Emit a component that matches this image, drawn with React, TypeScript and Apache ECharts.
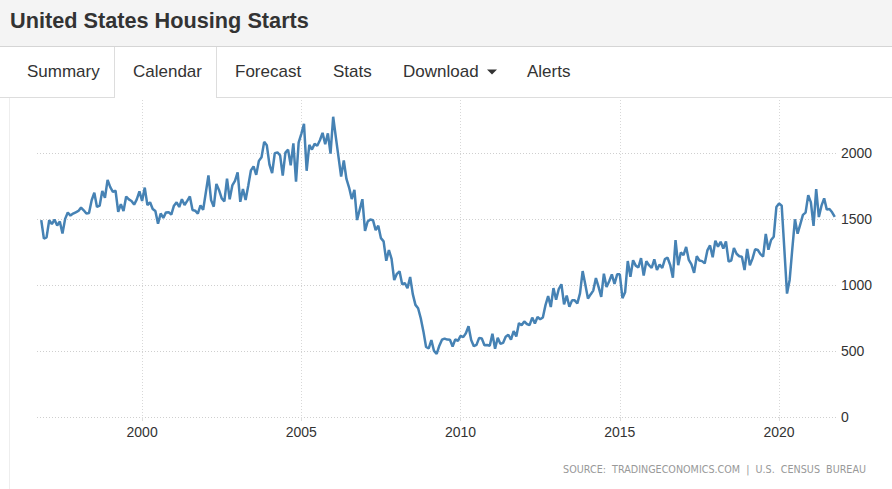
import React, { useEffect, useRef } from "react";
import * as echarts from "echarts";

// Monthly US housing starts (thousands of units, SAAR), Nov 1996 – Oct 2021
const START_YEAR = 1996;
const START_MONTH = 10; // 0-based: November
const starts1996 = [1490, 1350];
const starts1997 = [1360, 1490, 1460, 1495, 1450, 1480, 1390, 1500, 1548, 1525, 1540, 1550];
const starts1998 = [1560, 1585, 1565, 1540, 1545, 1641, 1698, 1590, 1600, 1712, 1660, 1795];
const starts1999 = [1740, 1705, 1713, 1553, 1611, 1559, 1669, 1648, 1635, 1608, 1648, 1708];
const starts2000 = [1636, 1737, 1604, 1626, 1575, 1559, 1463, 1541, 1507, 1549, 1551, 1532];
const starts2001 = [1600, 1625, 1590, 1649, 1605, 1636, 1670, 1567, 1562, 1540, 1602, 1568];
const starts2002 = [1698, 1829, 1642, 1592, 1764, 1717, 1655, 1633, 1804, 1648, 1753, 1788];
const starts2003 = [1853, 1629, 1726, 1643, 1751, 1867, 1897, 1833, 1939, 1967, 2083, 2057];
const starts2004 = [1911, 1846, 1998, 2003, 1981, 1828, 2002, 2024, 1905, 2072, 1782, 2080];
const starts2005 = [2144, 2220, 1864, 2061, 2025, 2068, 2054, 2095, 2151, 2065, 2147, 1994];
const starts2006 = [2273, 2119, 1969, 1821, 1942, 1802, 1737, 1650, 1720, 1491, 1570, 1649];
const starts2007 = [1409, 1480, 1495, 1490, 1415, 1448, 1354, 1330, 1183, 1264, 1197, 1037];
const starts2008 = [1084, 1103, 1005, 1013, 975, 1060, 930, 849, 823, 748, 648, 530];
const starts2009 = [520, 582, 500, 478, 540, 585, 594, 586, 585, 534, 588, 576];
const starts2010 = [614, 605, 634, 687, 583, 536, 546, 599, 594, 543, 545, 539];
const starts2011 = [630, 517, 600, 554, 561, 608, 623, 585, 650, 610, 711, 694];
const starts2012 = [723, 704, 695, 753, 708, 757, 740, 754, 847, 915, 833, 976];
const starts2013 = [888, 969, 1005, 853, 919, 835, 883, 883, 860, 936, 1105, 1003];
const starts2014 = [897, 928, 957, 1052, 985, 909, 1085, 984, 1028, 1080, 1007, 1080];
const starts2015 = [1080, 900, 944, 1181, 1062, 1187, 1146, 1132, 1203, 1071, 1179, 1149];
const starts2016 = [1128, 1194, 1113, 1155, 1128, 1195, 1206, 1150, 1054, 1340, 1149, 1246];
const starts2017 = [1226, 1288, 1189, 1155, 1092, 1217, 1185, 1180, 1163, 1261, 1299, 1209];
const starts2018 = [1334, 1290, 1327, 1276, 1329, 1177, 1184, 1280, 1236, 1217, 1214, 1112];
const starts2019 = [1273, 1149, 1199, 1270, 1264, 1233, 1215, 1386, 1266, 1340, 1365, 1590];
const starts2020 = [1617, 1600, 1270, 934, 1038, 1273, 1497, 1388, 1459, 1530, 1547, 1680];
const starts2021 = [1625, 1447, 1725, 1514, 1600, 1655, 1570, 1575, 1550, 1515];

const allStarts = [
  ...starts1996, ...starts1997, ...starts1998, ...starts1999, ...starts2000,
  ...starts2001, ...starts2002, ...starts2003, ...starts2004, ...starts2005,
  ...starts2006, ...starts2007, ...starts2008, ...starts2009, ...starts2010,
  ...starts2011, ...starts2012, ...starts2013, ...starts2014, ...starts2015,
  ...starts2016, ...starts2017, ...starts2018, ...starts2019, ...starts2020,
  ...starts2021,
];

const TITLE = "United States Housing Starts";
const TABS = ["Summary", "Calendar", "Forecast", "Stats", "Download", "Alerts"];
const TAB_X = [27, 133, 235, 333, 403, 527];
const SOURCE = "SOURCE:  TRADINGECONOMICS.COM  |  U.S.  CENSUS  BUREAU";
const Y_MIN = 0;
const Y_MAX = 2400;
const X_MIN = 1996.7;
const X_MAX = 2021.82;

const seriesData = allStarts.map((v, i) => {
  const m = START_MONTH + i;
  return [START_YEAR + m / 12, v];
});

const W = 892;
const H = 489;
const FONT = "'Liberation Sans', Arial, sans-serif";

export default function App() {
  const ref = useRef<HTMLDivElement>(null);
  useEffect(() => {
    if (!ref.current) return;
    const chart = echarts.init(ref.current, null, { renderer: "svg" });
    const tabTexts = TABS.map((t, i) => ({
      type: "text",
      x: TAB_X[i],
      y: 71,
      style: {
        text: t,
        fill: "#333",
        font: `17px ${FONT}`,
        verticalAlign: "middle",
        align: "left",
      },
      z: 10,
    }));
    chart.setOption({
      animation: false,
      backgroundColor: "#fff",
      grid: {
        left: 37,
        right: W - 837,
        top: 100,
        bottom: H - 417,
        containLabel: false,
        outerBoundsMode: "none",
      },
      xAxis: {
        type: "value",
        min: X_MIN,
        max: X_MAX,
        splitNumber: 5,
        axisLine: { show: false },
        axisTick: { show: true, length: 4, lineStyle: { color: "#ddd" } },
        axisLabel: {
          showMinLabel: false,
          showMaxLabel: false,
          margin: 8,
          color: "#333",
          fontSize: 14,
          fontFamily: FONT,
          formatter: (v: number) => String(Math.round(v)),
        },
        splitLine: {
          show: true,
          showMinLine: false,
          showMaxLine: false,
          lineStyle: { color: "#d8d8d8", type: [1, 2], width: 1 },
        },
      },
      yAxis: {
        type: "value",
        position: "right",
        min: Y_MIN,
        max: Y_MAX,
        interval: 500,
        axisLine: { show: false },
        axisTick: { show: false },
        axisLabel: {
          showMaxLabel: false,
          margin: 4,
          color: "#333",
          fontSize: 14,
          fontFamily: FONT,
          formatter: (v: number) => String(Math.round(v)),
        },
        splitLine: {
          show: true,
          showMaxLine: false,
          lineStyle: { color: "#cfcfcf", type: [1, 2], width: 1 },
        },
      },
      series: [
        {
          type: "line",
          data: seriesData,
          showSymbol: false,
          symbol: "none",
          smooth: false,
          lineStyle: { color: "#4682b4", width: 2.5 },
          itemStyle: { color: "#4682b4" },
          z: 5,
        },
      ],
      graphic: [
        { type: "rect", shape: { x: 0, y: 0, width: W, height: 46 }, style: { fill: "#f4f4f4" }, z: 1 },
        { type: "line", shape: { x1: 0, y1: 46.5, x2: W, y2: 46.5 }, style: { stroke: "#d5d5d5", lineWidth: 1 }, z: 2 },
        {
          type: "text",
          x: 10,
          y: 20,
          style: { text: TITLE, fill: "#333", font: `bold 21.7px ${FONT}`, verticalAlign: "middle" },
          z: 10,
        },
        { type: "line", shape: { x1: 0, y1: 97.5, x2: 114, y2: 97.5 }, style: { stroke: "#ddd", lineWidth: 1 }, z: 2 },
        { type: "line", shape: { x1: 217, y1: 97.5, x2: W, y2: 97.5 }, style: { stroke: "#ddd", lineWidth: 1 }, z: 2 },
        { type: "line", shape: { x1: 114.5, y1: 47, x2: 114.5, y2: 98 }, style: { stroke: "#ddd", lineWidth: 1 }, z: 2 },
        { type: "line", shape: { x1: 216.5, y1: 47, x2: 216.5, y2: 98 }, style: { stroke: "#ddd", lineWidth: 1 }, z: 2 },
        { type: "line", shape: { x1: 9.5, y1: 98, x2: 9.5, y2: H }, style: { stroke: "#eee", lineWidth: 1 }, z: 2 },
        ...tabTexts,
        {
          type: "polygon",
          shape: { points: [[487, 69.5], [497, 69.5], [492, 74.5]] },
          style: { fill: "#333" },
          z: 10,
        },
        {
          type: "text",
          x: 866,
          y: 469,
          style: {
            text: SOURCE,
            fill: "#999",
            font: `9.6px 'DejaVu Sans', Verdana, sans-serif`,
            align: "right",
            verticalAlign: "middle",
          },
          z: 10,
        },
      ],
    });
    return () => chart.dispose();
  }, []);
  return (
    <div style={{ position: "absolute", left: 0, top: 0, width: W, height: H, background: "#fff" }}>
      <div ref={ref} style={{ width: W, height: H }} />
    </div>
  );
}
